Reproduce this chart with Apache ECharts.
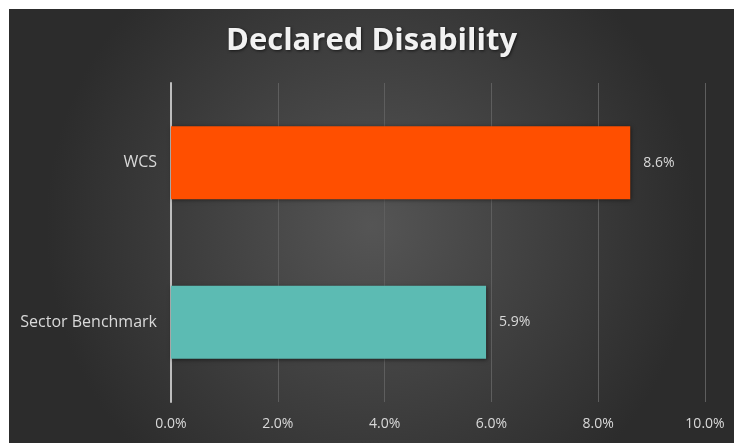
<!DOCTYPE html>
<html>
<head>
<meta charset="utf-8">
<script src="https://cdn.jsdelivr.net/npm/echarts@6/dist/echarts.min.js"></script>
<style>
  html, body { margin: 0; padding: 0; background: #ffffff; }
  #chart { position: absolute; left: 9px; top: 9px; width: 725px; height: 434px; }
</style>
</head>
<body>
<div id="chart"></div>
<script>
// chart data
let categories = ['WCS', 'Sector Benchmark']
let values = [8.6, 5.9]
let barColors = ['#ff4f00', '#5cbbb3']
let xTicks = [0, 2, 4, 6, 8, 10]

let barData = []
for (let i in values) {
    barData.push({
        value: values[i],
        itemStyle: { color: barColors[i] }
    })
}

var chart = echarts.init(document.getElementById('chart'))
chart.setOption({
    backgroundColor: {
        type: 'radial',
        x: 0.5, y: 0.5, r: 0.75,
        colorStops: [
            { offset: 0, color: '#555555' },
            { offset: 1, color: '#2c2c2c' }
        ]
    },
    title: {
        text: 'Declared Disability',
        left: 'center',
        top: 12,
        textStyle: {
            color: '#f2f2f2',
            fontFamily: 'Open Sans',
            fontWeight: 'bold',
            fontSize: 31,
            textShadowColor: 'rgba(0,0,0,0.6)',
            textShadowBlur: 3,
            textShadowOffsetX: 1,
            textShadowOffsetY: 1
        }
    },
    grid: {
        left: 162,
        right: 29,
        top: 74,
        bottom: 41
    },
    xAxis: {
        type: 'value',
        min: xTicks[0],
        max: xTicks[xTicks.length - 1],
        interval: 2,
        axisLine: { show: false },
        axisTick: { show: false },
        axisLabel: {
            color: '#d9d9d9',
            fontFamily: 'Open Sans',
            fontSize: 14,
            margin: 15,
            formatter: function (v) { return v.toFixed(1) + '%' }
        },
        splitLine: { lineStyle: { color: '#5e5e5e', width: 1 } }
    },
    yAxis: {
        type: 'category',
        data: categories,
        inverse: true,
        axisLine: { show: true, lineStyle: { color: '#bdbdbd', width: 2 } },
        axisTick: { show: false },
        axisLabel: {
            color: '#d9d9d9',
            fontFamily: 'Open Sans',
            fontSize: 16,
            margin: 14
        }
    },
    series: [{
        type: 'bar',
        data: barData,
        barWidth: 73,
        itemStyle: {
            shadowColor: 'rgba(0,0,0,0.5)',
            shadowBlur: 4,
            shadowOffsetX: 1,
            shadowOffsetY: 1
        },
        label: {
            show: true,
            position: 'right',
            distance: 13,
            color: '#d9d9d9',
            fontFamily: 'Open Sans',
            fontSize: 14,
            formatter: function (p) { return p.value.toFixed(1) + '%' }
        }
    }]
})
</script>
</body>
</html>
